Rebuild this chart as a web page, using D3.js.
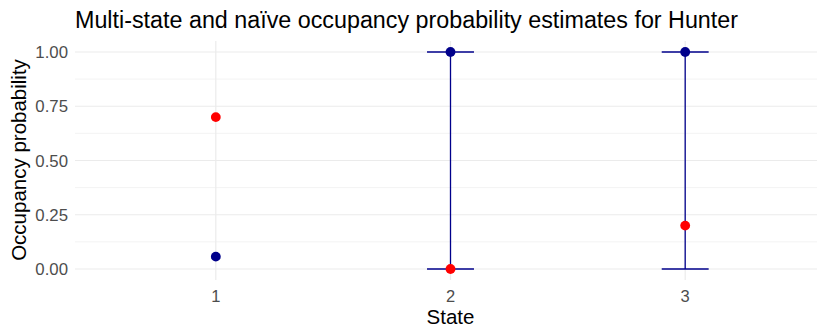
<!DOCTYPE html>
<html>
<head>
<meta charset="utf-8">
<script src="https://cdn.jsdelivr.net/npm/d3@7/dist/d3.min.js"></script>
<style>
  html, body { margin: 0; padding: 0; background: #fff; }
  svg { display: block; font-family: "Liberation Sans", Arial, sans-serif; }
</style>
</head>
<body>
<svg id="chart" width="817" height="329"></svg>
<script>
// Occupancy estimates per state
const states = ["1", "2", "3"];
const multiStateEstimate = [0.057, 1.0, 1.0];
const multiStateLower = [null, 0.0, 0.0];
const multiStateUpper = [null, 1.0, 1.0];
const naiveEstimate = [0.70, 0.0, 0.20];
const yTicks = [0, 0.25, 0.5, 0.75, 1.0];
const yMinorTicks = [0.125, 0.375, 0.625, 0.875];

const svg = d3.select("#chart");
const panel = { left: 75, right: 826, top: 41, bottom: 280 };

// Discrete x positions with 0.6 unit padding on either side
const unitW = (panel.right - panel.left) / (states.length - 1 + 1.2);
const xPos = s => panel.left + unitW * (0.6 + states.indexOf(s));

const y = d3.scaleLinear().domain([0, 1]).range([269, 52]);

const grid = svg.append("g");
// Minor horizontal gridlines
grid.selectAll("line.minor").data(yMinorTicks).join("line")
  .attr("x1", panel.left).attr("x2", panel.right)
  .attr("y1", d => y(d)).attr("y2", d => y(d))
  .attr("stroke", "#EBEBEB").attr("stroke-width", 0.6);
// Major horizontal gridlines
grid.selectAll("line.major").data(yTicks).join("line")
  .attr("x1", panel.left).attr("x2", panel.right)
  .attr("y1", d => y(d)).attr("y2", d => y(d))
  .attr("stroke", "#EBEBEB").attr("stroke-width", 1.2);
// Vertical gridlines at each state
grid.selectAll("line.vx").data(states).join("line")
  .attr("x1", d => xPos(d)).attr("x2", d => xPos(d))
  .attr("y1", panel.top).attr("y2", panel.bottom)
  .attr("stroke", "#EBEBEB").attr("stroke-width", 1.2);

// Y axis tick labels
svg.append("g").selectAll("text").data(yTicks).join("text")
  .attr("x", 68).attr("y", d => y(d)).attr("dy", "0.36em")
  .attr("text-anchor", "end").attr("fill", "#4D4D4D")
  .attr("font-size", 16.8)
  .text(d => d3.format(".2f")(d));

// X axis tick labels
svg.append("g").selectAll("text").data(states).join("text")
  .attr("x", d => xPos(d)).attr("y", 302)
  .attr("text-anchor", "middle").attr("fill", "#4D4D4D")
  .attr("font-size", 16.5)
  .text(d => d);

// Axis titles
svg.append("text").attr("x", xPos("2")).attr("y", 323.5)
  .attr("text-anchor", "middle").attr("font-size", 20.5).attr("fill", "#000")
  .text("State");
svg.append("text")
  .attr("transform", `translate(26,160) rotate(-90)`)
  .attr("text-anchor", "middle").attr("font-size", 20.5).attr("fill", "#000")
  .text("Occupancy probability");

// Title
svg.append("text").attr("x", 75).attr("y", 28)
  .attr("font-size", 23.3).attr("fill", "#000")
  .text("Multi-state and naïve occupancy probability estimates for Hunter");

const rows = states.map((s, i) => ({
  s, est: multiStateEstimate[i], lo: multiStateLower[i], hi: multiStateUpper[i], naive: naiveEstimate[i]
}));
const capHalf = unitW * 0.1;
const blue = "#00008B";

// Error bars for multi-state estimates
const eb = svg.append("g").selectAll("g").data(rows.filter(r => r.lo != null)).join("g");
eb.append("line")
  .attr("x1", d => xPos(d.s)).attr("x2", d => xPos(d.s))
  .attr("y1", d => y(d.lo)).attr("y2", d => y(d.hi))
  .attr("stroke", blue).attr("stroke-width", 1.3);
eb.append("line")
  .attr("x1", d => xPos(d.s) - capHalf).attr("x2", d => xPos(d.s) + capHalf)
  .attr("y1", d => y(d.lo)).attr("y2", d => y(d.lo))
  .attr("stroke", blue).attr("stroke-width", 1.3);
eb.append("line")
  .attr("x1", d => xPos(d.s) - capHalf).attr("x2", d => xPos(d.s) + capHalf)
  .attr("y1", d => y(d.hi)).attr("y2", d => y(d.hi))
  .attr("stroke", blue).attr("stroke-width", 1.3);

// Multi-state point estimates
svg.append("g").selectAll("circle").data(rows).join("circle")
  .attr("cx", d => xPos(d.s)).attr("cy", d => y(d.est)).attr("r", 4.9)
  .attr("fill", blue);

// Naive estimates
svg.append("g").selectAll("circle").data(rows).join("circle")
  .attr("cx", d => xPos(d.s)).attr("cy", d => y(d.naive)).attr("r", 4.9)
  .attr("fill", "#FF0000");
</script>
</body>
</html>
